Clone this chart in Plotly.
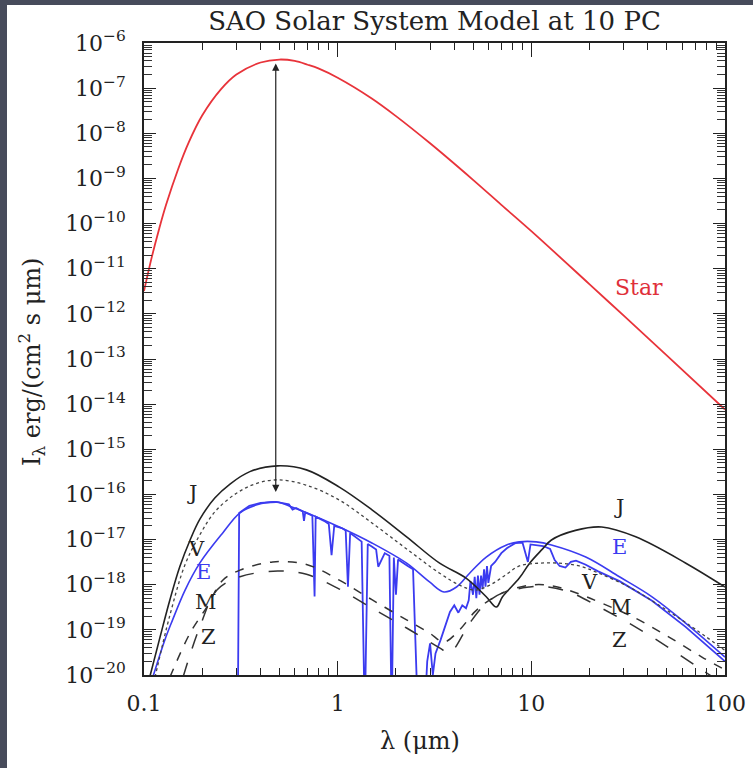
import math
import plotly.graph_objects as go

FONT = "DejaVu Serif"

# ---------------- data ----------------
star_wl = [0.1, 0.11, 0.12, 0.13, 0.15, 0.17, 0.2, 0.25, 0.3, 0.4, 0.5, 0.6, 0.7, 0.8, 1.0, 1.5, 2, 3, 5, 7, 10, 20, 30, 50, 100]
star_I = [3.2e-12, 1.9e-11, 7.9e-11, 2.6e-10, 1.6e-9, 6.2e-9, 2.5e-8, 9.5e-8, 2.0e-7, 3.7e-7, 4.3e-7, 4.0e-7, 3.3e-7, 2.7e-7,
          1.7e-7, 5.9e-8, 2.4e-8, 6.0e-9, 9.3e-10, 2.6e-10, 6.8e-11, 4.5e-12, 9.1e-13, 1.2e-13, 7.6e-15]

jup_wl = [0.107, 0.121, 0.136, 0.153, 0.173, 0.194, 0.232, 0.278, 0.352, 0.49, 0.69, 1.02, 1.51, 2.27, 3.36, 4.6,
          5.85, 6.6, 7.1, 8.67, 9.8, 11.3, 12.7, 16.9, 23.1, 34.6, 62.8, 100]
jup_I = [8.9e-21, 6.9e-20, 4.6e-19, 2.5e-18, 9.8e-18, 2.8e-17, 8.3e-17, 1.7e-16, 3.2e-16, 4.3e-16, 3.5e-16, 1.45e-16,
         4.5e-17, 1.15e-17, 3.0e-18, 1.4e-18, 5.4e-19, 3.2e-19, 5.4e-19, 1.4e-18, 3.0e-18, 5.9e-18, 9.8e-18, 1.6e-17,
         1.9e-17, 1.15e-17, 3.0e-18, 8.9e-19]

ven_wl = [0.114, 0.136, 0.163, 0.194, 0.232, 0.294, 0.373, 0.49, 0.69, 1.02, 1.51, 2.27, 3.36, 4.26, 5.1, 6.1, 7.3,
          8.67, 11.0, 13.9, 17.7, 22.3, 32, 45.7, 65, 100]
ven_I = [8.9e-21, 2.1e-19, 2.8e-18, 1.26e-17, 4.1e-17, 1.0e-16, 1.7e-16, 2.1e-16, 1.6e-16, 7.5e-17, 2.3e-17, 6.2e-18,
         1.8e-18, 9.8e-19, 7.6e-19, 9.8e-19, 1.6e-18, 2.6e-18, 3.0e-18, 3.0e-18, 2.6e-18, 1.8e-18, 8.9e-19, 3.5e-19,
         1.3e-19, 3.5e-20]

earth_wl = [0.111, 0.128, 0.14, 0.163, 0.194, 0.255, 0.313, 0.383, 0.484, 0.585, 1.02, 1.51, 2.27, 2.98, 3.54, 4.11,
            4.8, 5.85, 7.45, 8.67, 10.6, 12.7, 19.1, 28.5, 42, 62.8, 100]
earth_I = [8.9e-21, 5.9e-20, 1.6e-19, 7.6e-19, 3.0e-18, 1.4e-17, 3.9e-17, 5.9e-17, 6.8e-17, 5.2e-17, 1.9e-17, 8.3e-18,
           3.0e-18, 1.15e-18, 6.9e-19, 8.9e-19, 1.8e-18, 4.1e-18, 7.6e-18, 8.9e-18, 8.9e-18, 7.6e-18, 4.1e-18,
           1.5e-18, 5.4e-19, 1.4e-19, 2.5e-20]

# Earth detailed spectrum with absorption bands (1e-21 = below the axis)
earth_sp_wl = [0.300, 0.305, 0.31, 0.35, 0.40, 0.48, 0.56, 0.585, 0.61, 0.66, 0.67, 0.68, 0.74, 0.76, 0.77, 0.85,
               0.90, 0.93, 0.96, 1.05, 1.10, 1.13, 1.16, 1.25, 1.33, 1.38, 1.43, 1.5, 1.58, 1.62, 1.75, 1.85,
               1.9, 1.95, 2.0, 2.05, 2.15, 2.3, 2.45, 2.6, 2.7, 2.8, 2.9, 3.0, 3.1, 3.2, 3.4, 3.6, 3.8, 4.0,
               4.2, 4.4, 4.6, 4.75, 4.85, 5.0, 5.1, 5.2, 5.3, 5.4, 5.5, 5.6, 5.7, 5.8, 5.9, 6.0, 6.2, 6.5,
               7.0, 7.5, 8.3, 9.0, 9.4, 9.6, 9.9, 10.5, 11.5, 12.5, 13.2, 14.0, 15.0, 16.0, 17.0, 19.0, 22,
               28.5, 42, 62.8, 100]
earth_sp_I = [1e-21, 1e-21, 3.9e-17, 5.6e-17, 6.5e-17, 6.8e-17, 6.0e-17, 4.6e-17, 5.0e-17, 4.2e-17, 2.6e-17,
              4.0e-17, 3.4e-17, 5.5e-19, 3.2e-17, 2.6e-17, 2.2e-17, 4.5e-18, 2.0e-17, 1.8e-17, 1.6e-17, 9e-19,
              1.4e-17, 1.1e-17, 9e-18, 1e-21, 8e-18, 7.0e-18, 6.0e-18, 2.5e-18, 5.0e-18, 4.4e-18, 1e-21, 4.0e-18,
              6e-19, 3.6e-18, 3.2e-18, 2.6e-18, 2.2e-18, 1e-21, 1e-21, 1e-21, 2e-20, 5e-20, 1e-20, 3e-20, 6e-20,
              1.2e-19, 2.5e-19, 3.5e-19, 2.4e-19, 3.5e-19, 3.0e-19, 4.5e-19, 1.2e-18, 6e-19, 1.5e-18, 5e-19,
              1.6e-18, 6e-19, 1.6e-18, 8e-19, 2.2e-18, 9e-19, 2.6e-18, 1.1e-18, 2.6e-18, 3.2e-18, 5.0e-18,
              6.5e-18, 8.4e-18, 8.6e-18, 4.2e-18, 3.2e-18, 7.8e-18, 7.6e-18, 7.2e-18, 6.2e-18, 3.5e-18,
              2.6e-18, 2.4e-18, 3.2e-18, 3.4e-18, 2.8e-18, 2.0e-18, 1.2e-18, 4.4e-19, 1.15e-19, 2.0e-20]

mars_wl = [0.136, 0.173, 0.211, 0.255, 0.313, 0.462, 0.69, 1.02, 1.51, 2.27, 2.98, 3.54, 4.26, 5.1, 6.1, 7.7, 10.3,
           13.1, 17.7, 23.1, 34.6, 51.4, 76, 100]
mars_I = [8.9e-21, 8.5e-20, 3.2e-19, 1.26e-18, 2.1e-18, 3.2e-18, 2.8e-18, 1.26e-18, 4.6e-19, 1.66e-19, 8.5e-20,
          5.4e-20, 1.0e-19, 2.5e-19, 4.6e-19, 7.6e-19, 1.0e-18, 9.3e-19, 6.2e-19, 3.9e-19, 1.8e-19, 6.9e-20,
          2.5e-20, 1.3e-20]

zodi_wl = [0.159, 0.194, 0.238, 0.313, 0.49, 0.69, 1.02, 1.51, 2.27, 3.36, 3.78, 4.8, 5.85, 7.1, 9.8, 11.3, 15.7,
           23.1, 34.6, 51.4, 76, 100]
zodi_I = [8.9e-21, 1.15e-19, 7.6e-19, 1.5e-18, 2.0e-18, 1.7e-18, 8.0e-19, 3.0e-19, 1.1e-19, 4.0e-20, 3.1e-20,
          1.4e-19, 3.9e-19, 6.6e-19, 8.9e-19, 9.3e-19, 6.9e-19, 3.0e-19, 1.15e-19, 4.0e-20, 1.3e-20, 6e-21]

y_tick_vals = [10.0 ** (-k) for k in range(6, 21)]
y_tick_text = ["10<sup>\u2212%d</sup>" % k for k in range(6, 21)]
x_tick_vals = [0.1, 1, 10, 100]
x_tick_text = ["0.1", "1", "10", "100"]

# curve labels: (text, wavelength, intensity, colour)
curve_labels = [
    ("Star", 36.1, 3.9e-12, "#e0303a"),
    ("J", 28.4, 5.3e-17, "#222222"),
    ("E", 28.4, 6.8e-18, "#3b3bf0"),
    ("V", 19.9, 1.15e-18, "#222222"),
    ("M", 29.1, 3.2e-19, "#222222"),
    ("Z", 28.4, 5.9e-20, "#222222"),
    ("J", 0.177, 1.07e-16, "#222222"),
    ("V", 0.187, 6.2e-18, "#222222"),
    ("E", 0.204, 1.9e-18, "#3b3bf0"),
    ("M", 0.209, 4.2e-19, "#222222"),
    ("Z", 0.216, 6.9e-20, "#222222"),
]
arrow_wl = 0.479
arrow_top = 3.8e-7
arrow_bottom = 1.13e-16

# ---------------- figure ----------------
W, H = 753, 768
L, R, T, B = 144, 28, 43, 93
PW, PH = W - L - R, H - T - B

def px(xpix):
    return (xpix - L) / PW

def py(ypix):
    return (H - B - ypix) / PH

fig = go.Figure()

def add(x, y, color, dash="solid", width=1.6, shape="spline"):
    fig.add_trace(go.Scatter(x=x, y=y, mode="lines",
                             line=dict(color=color, width=width, dash=dash, shape=shape),
                             hoverinfo="skip", showlegend=False))

add(star_wl, star_I, "#e8333a", width=1.8)
add(earth_wl, earth_I, "#3b3bf0", width=1.6)
add(earth_sp_wl, earth_sp_I, "#3b3bf0", width=1.8, shape="linear")
add(jup_wl, jup_I, "#222222", width=1.6)
add(ven_wl, ven_I, "#444444", dash="dot", width=1.3)
add(mars_wl, mars_I, "#333333", dash="dash", width=1.5)
add(zodi_wl, zodi_I, "#333333", dash="longdash", width=1.5)

for txt, xv, yv, col in curve_labels:
    fig.add_annotation(x=math.log10(xv), y=math.log10(yv), text=txt, showarrow=False,
                       font=dict(family=FONT, size=21 if txt != "Star" else 22, color=col))

# double-headed arrow from star peak to planet level
fig.add_annotation(x=math.log10(arrow_wl), y=math.log10(arrow_bottom), ax=math.log10(arrow_wl), ay=math.log10(arrow_top),
                   xref="x", yref="y", axref="x", ayref="y", text="", showarrow=True,
                   arrowhead=2, startarrowhead=2, arrowside="end+start", arrowsize=1.2, arrowwidth=1.2,
                   arrowcolor="#222222", standoff=0, startstandoff=0)

# axis titles as annotations
fig.add_annotation(xref="paper", yref="paper", x=px(420), y=py(741), text="\u03bb (\u03bcm)", showarrow=False,
                   xanchor="center", yanchor="middle", font=dict(family=FONT, size=24, color="#222222"))
fig.add_annotation(xref="paper", yref="paper", x=px(31), y=py(362), textangle=-90,
                   text="I<sub>\u03bb</sub> erg/(cm<sup>2</sup> s \u03bcm)", showarrow=False,
                   xanchor="center", yanchor="middle", font=dict(family=FONT, size=24, color="#222222"))

# dark frame strips (screenshot border)
fig.add_shape(type="rect", xref="paper", yref="paper", x0=px(0), x1=px(7), y0=py(H), y1=py(0),
              fillcolor="#474b5b", line_width=0, layer="below")
fig.add_shape(type="rect", xref="paper", yref="paper", x0=px(0), x1=px(W), y0=py(5), y1=py(0),
              fillcolor="#474b5b", line_width=0, layer="below")

axis_common = dict(showline=True, linecolor="#222222", linewidth=1.6, mirror="allticks", ticks="inside",
                   tickcolor="#222222", showgrid=False, zeroline=False,
                   tickfont=dict(family=FONT, size=22, color="#222222"))

fig.update_xaxes(type="log", range=[-1, 2], tickvals=x_tick_vals, ticktext=x_tick_text, ticklen=14, tickwidth=1.4,
                 minor=dict(ticks="inside", ticklen=7, tickcolor="#222222", tickwidth=1, dtick="D1", showgrid=False),
                 ticklabelstandoff=8, **axis_common)
fig.update_yaxes(type="log", range=[-20, -6], tickvals=y_tick_vals, ticktext=y_tick_text, ticklen=12, tickwidth=1.4,
                 minor=dict(ticks="inside", ticklen=8, tickcolor="#333333", tickwidth=1.2, dtick="D1", showgrid=False),
                 ticklabelstandoff=12, **axis_common)

fig.update_layout(
    width=W, height=H,
    margin=dict(l=L, r=R, t=T, b=B, autoexpand=False),
    paper_bgcolor="white", plot_bgcolor="white",
    title=dict(text="SAO Solar System Model at 10 PC", x=(L + PW / 2) / W, xanchor="center",
               y=1 - 21 / H, yanchor="middle", font=dict(family=FONT, size=26, color="#222222")),
    showlegend=False,
)

fig.write_html("out.html", config={"displayModeBar": False},
               post_script="document.body.style.margin='0';document.body.style.padding='0';")
